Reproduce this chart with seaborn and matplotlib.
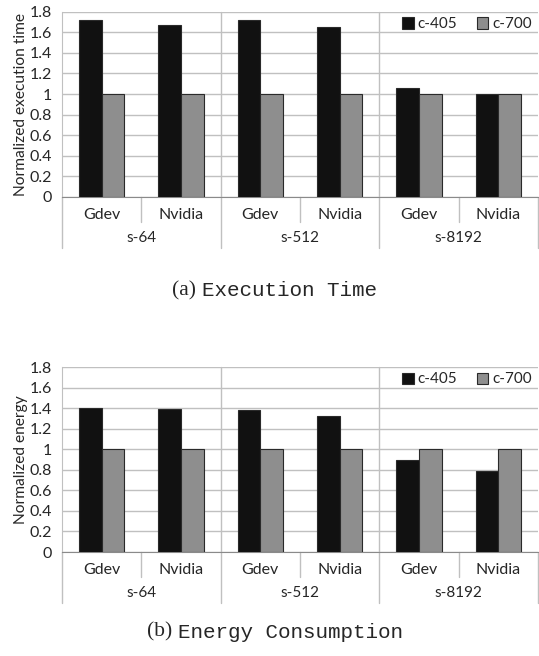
import numpy as np
import pandas as pd
import matplotlib
matplotlib.use("Agg")
import matplotlib.pyplot as plt
import matplotlib.transforms as mtransforms
import seaborn as sns

# --- data -------------------------------------------------------------------
GROUPS = ["s-64", "s-512", "s-8192"]
DRIVERS = ["Gdev", "Nvidia"]
CONFIGS = ["c-405", "c-700"]
TIME_C405 = [1.72, 1.67, 1.72, 1.65, 1.06, 1.00]
TIME_C700 = [1.00, 1.00, 1.00, 1.00, 1.00, 1.00]
ENERGY_C405 = [1.40, 1.39, 1.38, 1.32, 0.90, 0.79]
ENERGY_C700 = [1.00, 1.00, 1.00, 1.00, 1.00, 1.00]
YTICKS = [0, 0.2, 0.4, 0.6, 0.8, 1, 1.2, 1.4, 1.6, 1.8]
YTICKLABELS = ["0", "0.2", "0.4", "0.6", "0.8", "1", "1.2", "1.4", "1.6", "1.8"]

COLORS = ["#111111", "#8e8e8e"]
GRID = "#c0c0c0"
FONT = ["Lato", "DejaVu Sans"]

sns.set_style("white")
plt.rcParams["font.family"] = FONT

CATS = [f"{g}|{d}" for g in GROUPS for d in DRIVERS]


def make_df(c405, c700):
    rows = []
    for cat, a, b in zip(CATS, c405, c700):
        rows.append({"cat": cat, "config": CONFIGS[0], "value": a})
        rows.append({"cat": cat, "config": CONFIGS[1], "value": b})
    return pd.DataFrame(rows)


def draw_panel(ax, df, ylabel):
    sns.barplot(data=df, x="cat", y="value", hue="config", order=CATS,
                hue_order=CONFIGS, palette=COLORS, saturation=1, width=0.57,
                edgecolor="#2a2a2a", linewidth=0.8, errorbar=None, ax=ax,
                zorder=3)
    ax.set_xlim(-0.5, len(CATS) - 0.5)
    ax.set_ylim(0, 1.8)
    ax.set_yticks(YTICKS)
    ax.set_yticklabels(YTICKLABELS, fontsize=11.5)
    ax.yaxis.grid(True, color=GRID, lw=1, zorder=0)
    ax.set_axisbelow(True)
    ax.tick_params(axis="y", length=5, color=GRID, width=1, pad=2)
    ax.tick_params(axis="x", length=0, pad=8, labelsize=11.5)
    ax.set_xticks(range(len(CATS)))
    ax.set_xticklabels([c.split("|")[1] for c in CATS])
    ax.set_xlabel("")
    ax.set_ylabel(ylabel, fontsize=11.2, labelpad=1)
    for s in ("top", "right"):
        ax.spines[s].set_visible(False)
    ax.spines["left"].set_color(GRID)
    ax.spines["bottom"].set_color("#8a8a8a")

    tr = mtransforms.blended_transform_factory(ax.transData, ax.transAxes)
    # minor separators between drivers
    for x in (0.5, 2.5, 4.5):
        ax.plot([x, x], [0, -0.135], transform=tr, color=GRID, lw=1,
                clip_on=False)
    # major separators between sizes
    for x in (1.5, 3.5):
        ax.plot([x, x], [1, -0.276], transform=tr, color=GRID, lw=1,
                clip_on=False, zorder=1)
    for x in (-0.5, 5.5):
        ax.plot([x, x], [0, -0.276], transform=tr, color=GRID, lw=1,
                clip_on=False)
    for i, g in enumerate(GROUPS):
        ax.text(2 * i + 0.5, -0.222, g, transform=tr, ha="center",
                va="center", fontsize=11)

    ax.legend(*ax.get_legend_handles_labels(), loc="upper right",
              bbox_to_anchor=(1.016, 1.045), ncol=2, frameon=False,
              handlelength=0.75, handleheight=0.75, handletextpad=0.25,
              columnspacing=1.3, fontsize=11)


fig = plt.figure(figsize=(5.39, 6.56), dpi=100)
ax1 = fig.add_axes([0.115, 0.700, 0.883, 0.282])
ax2 = fig.add_axes([0.115, 0.1585, 0.883, 0.282])

draw_panel(ax1, make_df(TIME_C405, TIME_C700), "Normalized execution time")
draw_panel(ax2, make_df(ENERGY_C405, ENERGY_C700), "Normalized energy")

serif = ["Liberation Serif", "DejaVu Serif"]
mono = ["Liberation Mono", "DejaVu Sans Mono"]
fig.text(172 / 539, 1 - 291 / 656, "(a)", family=serif, fontsize=15.5,
         ha="left", va="center")
fig.text(202 / 539, 1 - 291 / 656, "Execution Time", family=mono,
         fontsize=15, ha="left", va="center")
fig.text(147 / 539, 1 - 632 / 656, "(b)", family=serif, fontsize=15.5,
         ha="left", va="center")
fig.text(178 / 539, 1 - 632 / 656, "Energy Consumption", family=mono,
         fontsize=15, ha="left", va="center")

fig.savefig("out.png", dpi=100)
